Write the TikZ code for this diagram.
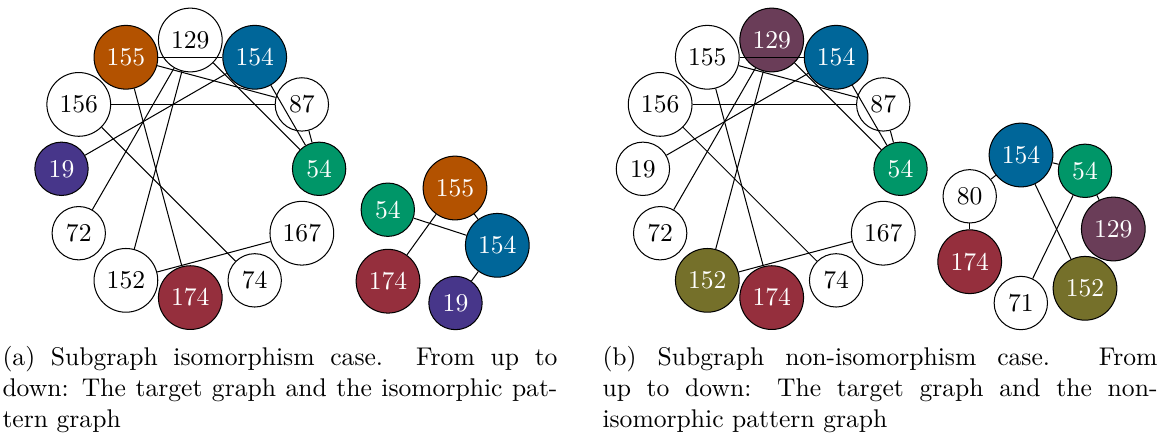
\documentclass[tikz,border=0pt]{standalone}
\usetikzlibrary{calc}
\definecolor{cOrange}{HTML}{B35200}
\definecolor{cBlue}{HTML}{006699}
\definecolor{cGreen}{HTML}{009668}
\definecolor{cRed}{HTML}{952F3D}
\definecolor{cIndigo}{HTML}{47368A}
\definecolor{cPlum}{HTML}{6A3D58}
\definecolor{cOlive}{HTML}{75702A}
\tikzset{
  vtx/.style={circle,draw=black,line width=0.4pt,inner sep=3.1pt,font=\normalsize},
  wnode/.style={vtx,fill=white,text=black},
  onode/.style={vtx,fill=cOrange,text=white},
  bnode/.style={vtx,fill=cBlue,text=white},
  gnode/.style={vtx,fill=cGreen,text=white},
  rnode/.style={vtx,fill=cRed,text=white},
  inode/.style={vtx,fill=cIndigo,text=white},
  pnode/.style={vtx,fill=cPlum,text=white},
  lnode/.style={vtx,fill=cOlive,text=white},
  edge/.style={draw=black,line width=0.4pt},
  capbox/.style={anchor=north west,inner sep=0pt,text width=216.8pt,align=justify,font=\normalsize}
}
\begin{document}
\begin{tikzpicture}[x=0.390625pt,y=-0.390625pt]
\useasboundingbox (0,0) rectangle (1159,435);

% target graph (a): twelve vertices on a circle
\foreach \a/\n/\s in {90/129/wnode,60/154/bnode,30/87/wnode,0/54/gnode,
  -30/167/wnode,-60/74/wnode,-90/174/rnode,-120/152/wnode,-150/72/wnode,
  180/19/inode,150/156/wnode,120/155/onode}
  \node[\s] (a\n) at ({190.3+128.8*cos(\a)},{168.8-128.8*sin(\a)}) {\n};

% target graph (b): same layout, different colouring
\foreach \a/\n/\s in {90/129/pnode,60/154/bnode,30/87/wnode,0/54/gnode,
  -30/167/wnode,-60/74/wnode,-90/174/rnode,-120/152/lnode,-150/72/wnode,
  180/19/wnode,150/156/wnode,120/155/wnode}
  \node[\s] (b\n) at ({771.7+128.8*cos(\a)},{168.8-128.8*sin(\a)}) {\n};

% edges of both target graphs
\foreach \g in {a,b}{
  \foreach \u/\v in {155/154,155/87,155/174,156/87,156/74,19/154,
    129/72,129/152,129/54,154/54,87/54,152/167}
    \draw[edge] (\g\u) -- (\g\v);
}

% isomorphic pattern graph
\node[onode] (pa155) at (455,188) {155};
\node[gnode] (pa54) at (387.8,209.7) {54};
\node[bnode] (pa154) at (497.3,245.3) {154};
\node[rnode] (pa174) at (388,281.2) {174};
\node[inode] (pa19) at (455.5,303) {19};
\draw[edge] (pa54) -- (pa154);
\draw[edge] (pa155) -- (pa174);
\draw[edge] (pa155) -- (pa154);
\draw[edge] (pa154) -- (pa19);

% non-isomorphic pattern graph
\node[bnode] (pb154) at (1021,155) {154};
\node[gnode] (pb54) at (1085,170.8) {54};
\node[wnode] (pb80) at (969.7,196.3) {80};
\node[pnode] (pb129) at (1113.3,229) {129};
\node[rnode] (pb174) at (969.7,261.7) {174};
\node[lnode] (pb152) at (1085,288.3) {152};
\node[wnode] (pb71) at (1020.8,303) {71};
\draw[edge] (pb154) -- (pb54);
\draw[edge] (pb154) -- (pb80);
\draw[edge] (pb80) -- (pb174);
\draw[edge] (pb154) -- (pb152);
\draw[edge] (pb54) -- (pb71);
\draw[edge] (pb54) -- (pb129);

% sub-captions
\node[capbox] (capa) at (2,346) {\tolerance=9999\hbadness=10000
  (a) Subgraph isomorphism case. From up to\linebreak
  down: The target graph and the isomorphic pat-\linebreak
  tern graph};
\node[capbox] (capb) at (602,346) {\tolerance=9999\hbadness=10000
  (b) Subgraph non-isomorphism case. From\linebreak
  up to down: The target graph and the non-\linebreak
  isomorphic pattern graph};
\end{tikzpicture}
\end{document}
